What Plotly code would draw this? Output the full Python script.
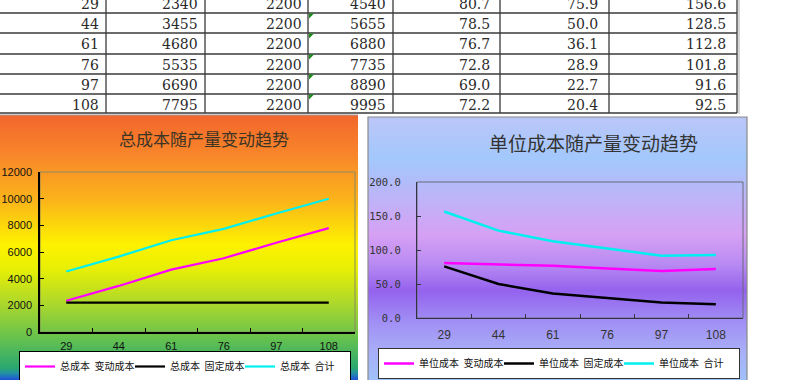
import base64
import plotly.graph_objects as go

# ---------------- data ----------------
quantity = ["29", "44", "61", "76", "97", "108"]
total_variable = [2340, 3455, 4680, 5535, 6690, 7795]
total_fixed = [2200, 2200, 2200, 2200, 2200, 2200]
total_sum = [4540, 5655, 6880, 7735, 8890, 9995]
unit_variable = [80.7, 78.5, 76.7, 72.8, 69.0, 72.2]
unit_fixed = [75.9, 50.0, 36.1, 28.9, 22.7, 20.4]
unit_total = [156.6, 128.5, 112.8, 101.8, 91.6, 92.5]

left_title = "总成本随产量变动趋势"
right_title = "单位成本随产量变动趋势"
left_names = ["总成本  变动成本", "总成本  固定成本", "总成本  合计"]
right_names = ["单位成本  变动成本", "单位成本  固定成本", "单位成本  合计"]

W, H = 800, 380


def px(x):
    return x / W


def py(y):
    return 1 - y / H


def grad_uri(stops):
    s = "".join(f'<stop offset="{o}" stop-color="{c}"/>' for o, c in stops)
    svg = ('<svg xmlns="http://www.w3.org/2000/svg" width="100" height="100" '
           'viewBox="0 0 100 100" preserveAspectRatio="none"><defs>'
           f'<linearGradient id="g" x1="0" y1="0" x2="0" y2="1">{s}</linearGradient>'
           '</defs><rect width="100" height="100" fill="url(#g)"/></svg>')
    return "data:image/svg+xml;base64," + base64.b64encode(svg.encode()).decode()


left_grad = [(0, "#f2662c"), (0.15, "#f8862a"), (0.32, "#fbb41a"), (0.49, "#fdf200"),
             (0.58, "#e8ef04"), (0.70, "#b2da28"), (0.85, "#62c050"), (0.955, "#2aa870"),
             (0.975, "#2290a8"), (1.0, "#2050d8")]
right_grad = [(0, "#bcc6f8"), (0.16, "#a2c8fc"), (0.32, "#c0b2f8"), (0.45, "#d6a0f4"),
              (0.56, "#b88af2"), (0.66, "#9462ee"), (0.77, "#a08cf4"), (0.89, "#a8aef8"),
              (1.0, "#a0c2fa")]

fig = go.Figure()

lcolors = ["#ff00ff", "#000000", "#00f0f0"]
# ---------------- left chart ----------------
for ys, nm, c in zip([total_variable, total_fixed, total_sum], left_names, lcolors):
    fig.add_trace(go.Scatter(x=quantity, y=ys, mode="lines", name=nm,
                             line=dict(color=c, width=2.2),
                             xaxis="x", yaxis="y", legend="legend"))

# ---------------- right chart ----------------
for ys, nm, c in zip([unit_variable, unit_fixed, unit_total], right_names, lcolors):
    fig.add_trace(go.Scatter(x=quantity, y=ys, mode="lines", name=nm,
                             line=dict(color=c, width=2.5),
                             xaxis="x2", yaxis="y2", legend="legend2"))

axis_common = dict(showgrid=False, zeroline=False, showline=True, ticks="inside",
                   ticklen=4, tickwidth=1)

shapes = []
annotations = []

# table grid
row_lines = [13, 33, 54, 74, 94, 113]
col_lines = [106, 205, 308, 393, 500, 609, 737]
for y in row_lines:
    shapes.append(dict(type="line", xref="paper", yref="paper", x0=px(0), x1=px(737),
                       y0=py(y), y1=py(y), line=dict(color="#3a3a3a", width=1.3), layer="above"))
for x in col_lines:
    shapes.append(dict(type="line", xref="paper", yref="paper", x0=px(x), x1=px(x),
                       y0=py(-5), y1=py(113), line=dict(color="#3a3a3a", width=1.3), layer="above"))
shapes.append(dict(type="line", xref="paper", yref="paper", x0=px(739), x1=px(739),
                   y0=py(-5), y1=py(114), line=dict(color="#c8c8c8", width=1.5), layer="above"))
# green "number stored as text" markers
for y in row_lines[:5]:
    shapes.append(dict(type="path", xref="paper", yref="paper",
                       path=f"M{px(309)},{py(y + 0.5)} L{px(314)},{py(y + 0.5)} L{px(309)},{py(y + 5.5)} Z",
                       fillcolor="#1a8a1a", line=dict(width=0), layer="above"))

# table text
columns = [quantity, total_variable, total_fixed, total_sum, unit_variable, unit_fixed, unit_total]
fmts = ["{}", "{}", "{}", "{}", "{:.1f}", "{:.1f}", "{:.1f}"]
text_right = [101, 200, 304, 388, 492, 600, 728]
row_tops = [-7, 13, 33, 54, 74, 94]
row_bots = [13, 33, 54, 74, 94, 113]
for ci, col in enumerate(columns):
    for ri, v in enumerate(col):
        cy = (row_tops[ri] + row_bots[ri]) / 2 + 1
        annotations.append(dict(xref="paper", yref="paper", x=px(text_right[ci]), y=py(cy),
                                text=fmts[ci].format(v), showarrow=False, xanchor="right",
                                yanchor="middle",
                                font=dict(family="DejaVu Serif", size=14, color="#2a2a2a")))

# chart backgrounds
images = [
    dict(source=grad_uri(left_grad), xref="paper", yref="paper", x=px(0), y=py(115),
         sizex=px(358), sizey=265 / H, sizing="stretch", xanchor="left", yanchor="top",
         layer="below"),
    dict(source=grad_uri(right_grad), xref="paper", yref="paper", x=px(368), y=py(117),
         sizex=px(747) - px(368), sizey=263 / H, sizing="stretch", xanchor="left",
         yanchor="top", layer="below"),
]
shapes.append(dict(type="rect", xref="paper", yref="paper", x0=px(368), x1=px(747),
                   y0=py(117), y1=py(380.5), line=dict(color="#8a8a8a", width=1.2), layer="above"))
shapes.append(dict(type="line", xref="paper", yref="paper", x0=px(0), x1=px(358),
                   y0=py(115), y1=py(115), line=dict(color="#9a9a9a", width=1), layer="above"))

# plot-area borders
shapes.append(dict(type="rect", xref="x domain", yref="y domain", x0=0, x1=1, y0=0, y1=1,
                   line=dict(color="#8c8a60", width=1), layer="below"))
shapes.append(dict(type="rect", xref="x2 domain", yref="y2 domain", x0=0, x1=1, y0=0, y1=1,
                   line=dict(color="#6a6a7a", width=1), layer="below"))

# titles
annotations.append(dict(xref="paper", yref="paper", x=px(204), y=py(138), text=left_title,
                        showarrow=False, xanchor="center", yanchor="middle",
                        font=dict(family="Noto Sans CJK SC", size=17, color="#3c3424")))
annotations.append(dict(xref="paper", yref="paper", x=px(593), y=py(142), text=right_title,
                        showarrow=False, xanchor="center", yanchor="middle",
                        font=dict(family="Noto Sans CJK SC", size=19, color="#333333")))

legend_common = dict(orientation="h", xanchor="left", yanchor="top", bgcolor="white",
                     borderwidth=1, itemwidth=30, entrywidthmode="pixels",
                     font=dict(family="Noto Sans CJK SC", size=10, color="#111111"))

fig.update_layout(
    width=W, height=H, margin=dict(l=0, r=0, t=0, b=0, autoexpand=False),
    paper_bgcolor="white", plot_bgcolor="rgba(0,0,0,0)",
    xaxis=dict(domain=[px(40), px(355)], anchor="y", type="category", range=[-0.5, 5.5],
               tickson="boundaries", linecolor="#000000", linewidth=1.5, tickcolor="#000000",
               ticklabelstandoff=3,
               tickfont=dict(family="Liberation Sans", size=11, color="#111111"), **axis_common),
    yaxis=dict(domain=[py(332), py(172)], anchor="x", range=[0, 12000], dtick=2000,
               tickformat="d",
               linecolor="#000000", linewidth=1.5, tickcolor="#000000", ticklabelstandoff=4,
               tickfont=dict(family="Liberation Sans", size=11, color="#111111"), **axis_common),
    xaxis2=dict(domain=[px(417), px(743)], anchor="y2", type="category", range=[-0.5, 5.5],
                tickson="boundaries", linecolor="#333344", linewidth=1.3, tickcolor="#333344",
                ticklabelstandoff=5,
                tickfont=dict(family="Liberation Sans", size=12, color="#333333"), **axis_common),
    yaxis2=dict(domain=[py(318), py(182)], anchor="x2", range=[0, 200], dtick=50,
                tickformat=".1f", linecolor="#333344", linewidth=1.3, tickcolor="#333344",
                ticklabelstandoff=13,
                tickfont=dict(family="DejaVu Sans Mono", size=10.5, color="#333333"),
                **axis_common),
    legend=dict(x=px(19), y=py(351), bordercolor="#000000", entrywidth=65, **legend_common),
    legend2=dict(x=px(378), y=py(348), bordercolor="#333333", entrywidth=75, **legend_common),
    shapes=shapes, annotations=annotations, images=images,
)

fig.write_html("out.html", config={"displayModeBar": False},
               post_script="document.body.style.margin='0';document.body.style.padding='0';")
